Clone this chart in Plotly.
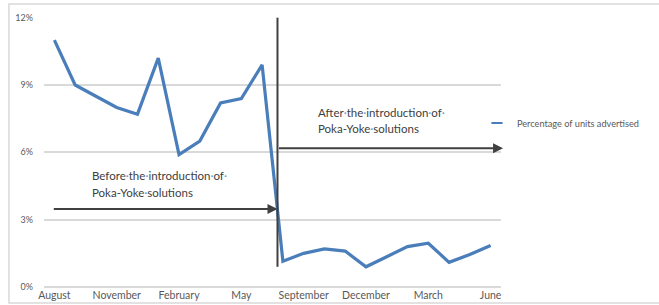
import plotly.graph_objects as go

months = ["August", "September", "October", "November", "December", "January",
          "February", "March", "April", "May", "June", "July",
          "September", "October", "November", "December", "January",
          "February", "March", "April", "May", "June"]
values = [11.0, 9.0, 8.5, 8.0, 7.7, 10.2, 5.9, 6.5, 8.2, 8.4, 9.9, 1.15,
          1.5, 1.7, 1.6, 0.9, 1.35, 1.8, 1.95, 1.1, 1.45, 1.85]
series_name = "Percentage of units advertised"
y_ticks = [0, 3, 6, 9, 12]
y_tick_text = ["0%", "3%", "6%", "9%", "12%"]
label_step = 3

x = list(range(len(months)))
tick_idx = x[::label_step]

BLUE = "#4a7ebb"
DARK = "#404040"
GREY = "#595959"
FONT = "Lato"

fig = go.Figure()
fig.add_trace(go.Scatter(x=x, y=values, mode="lines", showlegend=False,
                         line=dict(color=BLUE, width=3.2)))
fig.add_trace(go.Scatter(x=[None], y=[None], mode="markers", name=series_name,
                         marker=dict(symbol="line-ew-open", size=8,
                                     line=dict(color=BLUE, width=2), color=BLUE)))

dot = "<span style='color:#5b9bd5'>·</span>"
def txt(s):
    return s.replace("·", dot)

# vertical separator line
fig.add_shape(type="line", x0=10.74, x1=10.74, y0=0.9, y1=12, xref="x", yref="y",
              line=dict(color=DARK, width=2))
# arrows
fig.add_annotation(x=21.6, y=6.18, ax=10.74, ay=6.18, xref="x", yref="y",
                   axref="x", ayref="y", showarrow=True, arrowhead=2, arrowsize=1,
                   arrowwidth=2, arrowcolor=DARK, text="")
fig.add_annotation(x=10.74, y=3.47, ax=-0.1, ay=3.47, xref="x", yref="y",
                   axref="x", ayref="y", showarrow=True, arrowhead=2, arrowsize=1,
                   arrowwidth=2, arrowcolor=DARK, text="")

ann_font = dict(family=FONT, size=11.5, color=DARK)
for xx, yy, t in [(1.73, 4.98, "Before·the·introduction·of·"),
                  (1.73, 4.2, "Poka-Yoke·solutions"),
                  (12.57, 7.78, "After·the·introduction·of·"),
                  (12.57, 7.07, "Poka-Yoke·solutions")]:
    fig.add_annotation(x=xx, y=yy, xref="x", yref="y", text=txt(t), showarrow=False,
                       xanchor="left", yanchor="middle", font=ann_font)

# outer chart border
fig.add_shape(type="rect", xref="paper", yref="paper", x0=-0.0767, x1=1.45,
              y0=-0.059, y1=1.048, line=dict(color="#d9d9d9", width=1.5),
              fillcolor="rgba(0,0,0,0)", layer="below")

fig.update_layout(
    width=659, height=305,
    margin=dict(l=44, r=158, t=17, b=18),
    plot_bgcolor="white", paper_bgcolor="white",
    font=dict(family=FONT, color=GREY),
    legend=dict(x=(477 - 44) / 457, y=(287 - 123) / 270,
                xanchor="left", yanchor="middle",
                font=dict(family=FONT, size=9.2, color=GREY), bgcolor="rgba(0,0,0,0)",
                itemwidth=30),
    xaxis=dict(range=[-0.5, len(months) - 0.5], tickvals=tick_idx,
               ticktext=[months[i] for i in tick_idx], showgrid=False,
               zeroline=False, showline=False, ticks="", automargin=False,
               tickfont=dict(family=FONT, size=10.5, color=GREY)),
    yaxis=dict(range=[0, 12.03], tickvals=y_ticks, ticktext=y_tick_text,
               showgrid=True, automargin=False,
               gridcolor="#d9d9d9", gridwidth=1.5, zeroline=True,
               zerolinecolor="#d9d9d9", zerolinewidth=1.5, showline=False,
               ticklabelstandoff=10,
               tickfont=dict(family=FONT, size=9, color=GREY)),
)

fig.write_html("out.html", config={"displayModeBar": False},
               post_script="document.body.style.margin='0';document.body.style.overflow='hidden';")
